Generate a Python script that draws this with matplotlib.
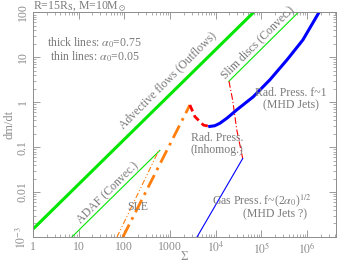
import matplotlib.pyplot as plt
from matplotlib.ticker import FixedLocator, FixedFormatter, LogLocator, NullFormatter

# thick lines (alpha0 = 0.75)
adv_sigma = [1.0, 6.7e4]
adv_mdot = [1.5e-3, 100.0]

sle_sigma = [93.0, 2720.0]
sle_mdot = [1e-3, 0.87]

inh_sigma = [2720.0, 3500.0, 5400.0, 7400.0]
inh_mdot = [0.87, 0.48, 0.31, 0.29]

rad_sigma = [7400.0, 9500.0, 1.23e4, 1.8e4, 2.9e4, 6.6e4, 1.55e5, 3.7e5, 8.1e5, 1.82e6]
rad_mdot = [0.29, 0.3, 0.34, 0.45, 0.68, 1.32, 3.2, 9.0, 24.5, 100.0]

# thin lines (alpha0 = 0.05)
adaf_sigma = [7.1, 600.0]
adaf_mdot = [1e-3, 0.085]

sle2_sigma = [69.0, 575.0]
sle2_mdot = [1e-3, 0.087]

slim_sigma = [1.95e4, 6.4e5]
slim_mdot = [2.95, 100.0]

inh2_sigma = [1.95e4, 2.35e4, 2.9e4, 3.4e4, 3.9e4]
inh2_mdot = [2.95, 1.12, 0.24, 0.11, 0.056]

gas_sigma = [3.9e3, 3.9e4]
gas_mdot = [1e-3, 0.056]

grey = '#8c8c8c'
plt.rcParams['font.family'] = ['Liberation Serif', 'DejaVu Serif']
plt.rcParams['mathtext.fontset'] = 'stix'

fig = plt.figure(figsize=(3.38, 2.62), dpi=100)
ax = fig.add_axes([0.0976, 0.0954, 0.896, 0.857])

green = '#00e600'
ax.plot(adv_sigma, adv_mdot, color=green, lw=2.2, solid_capstyle='butt')
ax.plot(adaf_sigma, adaf_mdot, color=green, lw=0.8)
ax.plot(slim_sigma, slim_mdot, color=green, lw=0.8)

orange = '#ff7f0e'
ax.plot(sle_sigma, sle_mdot, color=orange, lw=2.0, ls=(0, (5, 2, 1, 2)))
ax.plot(sle2_sigma, sle2_mdot, color=orange, lw=0.8, ls=(0, (5, 2, 1, 2, 1, 2)))

ax.plot(inh_sigma, inh_mdot, color='red', lw=2.0, ls=(0, (2.5, 1.5)))
ax.plot(inh2_sigma, inh2_mdot, color='red', lw=0.8, ls=(0, (6, 2, 1, 2)))

ax.plot(rad_sigma, rad_mdot, color='#0000ff', lw=2.2)
ax.plot(gas_sigma, gas_mdot, color='#0000ff', lw=0.8)

ax.set_xscale('log')
ax.set_yscale('log')
ax.set_xlim(1, 10**6.63)
ax.set_ylim(1e-3, 100)

xt = [1, 10, 100, 1000, 1e4, 1e5, 1e6]
xl = ['1', '10', '100', '1000', r'$10^4$', r'$10^5$', r'$10^6$']
ax.xaxis.set_major_locator(FixedLocator(xt))
ax.xaxis.set_major_formatter(FixedFormatter(xl))
yt = [1e-3, 0.01, 0.1, 1, 10, 100]
yl = [r'$10^{-3}$', '0.01', '0.1', '1', '10', '100']
ax.yaxis.set_major_locator(FixedLocator(yt))
ax.yaxis.set_major_formatter(FixedFormatter(yl))
for a in (ax.xaxis, ax.yaxis):
    a.set_minor_locator(LogLocator(base=10, subs=range(2, 10), numticks=20))
    a.set_minor_formatter(NullFormatter())

ax.tick_params(which='both', direction='in', top=True, right=True, colors=grey,
               labelsize=8.5, labelcolor=grey)
ax.tick_params(which='major', length=5, width=0.6, pad=3)
ax.tick_params(which='minor', length=2.5, width=0.5)
for lab in ax.get_yticklabels():
    lab.set_rotation(90)
    lab.set_va('center')
for s in ax.spines.values():
    s.set_color(grey)
    s.set_linewidth(0.7)

ax.set_xlabel(r'$\Sigma$', color=grey, fontsize=8.5, va='center')
ax.xaxis.set_label_coords(0.5, -0.087)
ax.set_ylabel('dm/dt', color=grey, fontsize=9, va='center')
ax.yaxis.set_label_coords(-0.078, 0.5)

fs = 8.5
tc = '#7a7a7a'
fig.text(0.097, 0.975, r'R=15R$_{\rm S}$, M=10M$_\odot$', color=tc, fontsize=fs, va='center')
fig.text(0.28, 0.835, r'thick lines: $\alpha_0$=0.75', color=tc, fontsize=fs, ha='center', va='center')
fig.text(0.28, 0.782, r'thin lines: $\alpha_0$=0.05', color=tc, fontsize=fs, ha='center', va='center')

fig.text(168 / 338, 1 - 80 / 262, 'Advective flows (Outflows)', color=tc, fontsize=fs,
         rotation=45, ha='center', va='center')
fig.text(258 / 338, 1 - 42 / 262, 'Slim discs (Convec.)', color=tc, fontsize=fs,
         rotation=45, ha='center', va='center')
fig.text(108 / 338, 1 - 193 / 262, 'ADAF (Convec.)', color=tc, fontsize=fs,
         rotation=45, ha='center', va='center')
fig.text(138 / 338, 1 - 207 / 262, 'SLE', color=tc, fontsize=fs, ha='center', va='center')
fig.text(291 / 338, 1 - 99 / 262, 'Rad. Press. f~1\n(MHD Jets)', color=tc, fontsize=fs,
         ha='center', va='center', linespacing=1.0)
fig.text(217 / 338, 1 - 144 / 262, 'Rad. Press.\n(Inhomog.)', color=tc, fontsize=fs,
         ha='center', va='center', linespacing=1.0)
fig.text(262 / 338, 1 - 201 / 262, r'Gas Press. f~(2$\alpha_0$)$^{1/2}$', color=tc, fontsize=fs,
         ha='center', va='center')
fig.text(275 / 338, 1 - 214 / 262, '(MHD Jets ?)', color=tc, fontsize=fs,
         ha='center', va='center')

plt.savefig('out.png', dpi=100)
